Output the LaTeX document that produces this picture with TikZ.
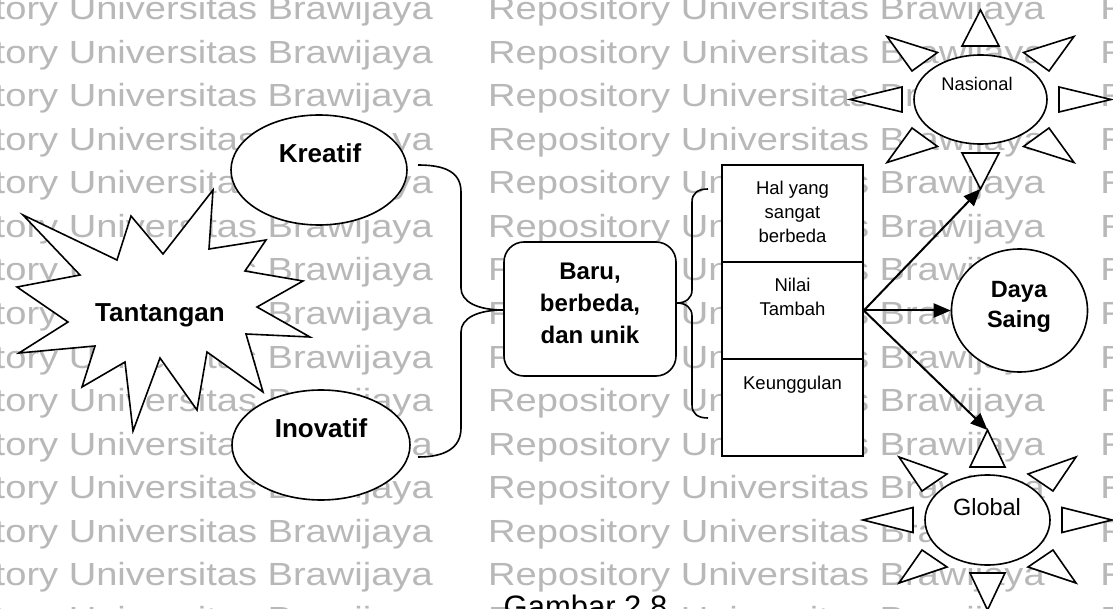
\documentclass[tikz,border=0pt]{standalone}
\usepackage{fontspec}
\setmainfont{Liberation Sans}
\usetikzlibrary{shapes.geometric,arrows.meta}

\newcommand\fsz[1]{\fontsize{#1}{#1}\selectfont}

\tikzset{
  shape line/.style={draw=black, line width=1.6pt, fill=white},
  oval/.style={shape line, ellipse, inner sep=0pt},
  cell/.style={shape line, rectangle, inner sep=0pt, minimum width=141pt, minimum height=97pt},
  lbl/.style={inner sep=0pt, anchor=base, text=black},
  link/.style={draw=black, line width=1.6pt, line join=round},
  pointer/.style={draw=black, line width=2pt, -{Triangle[length=17pt,width=14pt]}},
  ray/.style={draw=black, line width=1.6pt, fill=white, line join=miter},
  watermark/.style={inner sep=0pt, anchor=base west, text=black!28, xscale=1.19, font=\fsz{32}},
}

\begin{document}
\begin{tikzpicture}[x=1pt, y=-1pt]
  \useasboundingbox (0,0) rectangle (1113,609);
  \clip (0,0) rectangle (1113,609);
  \fill[white] (0,0) rectangle (1113,609);

  % repository watermark in the background
  \foreach \r in {0,...,14} {
    \foreach \c/\cx in {0/-124,1/488,2/1100} {
      \node[watermark, name=wm-\r-\c] at ({\cx},{20+43.5*\r}) {Repository Universitas Brawijaya};
    }
  }

  % challenge burst
  \draw[shape line, line join=miter] (23,215) -- (117,260) -- (131,216) -- (163,254) -- (213,190)
    -- (209,249) -- (266,240) -- (245,271) -- (303,281) -- (257,307) -- (310,337)
    -- (246,334) -- (263,392) -- (207,352) -- (197,410) -- (160,358) -- (133,431)
    -- (125,362) -- (82,387) -- (95,346) -- (19,353) -- (68,322) -- (17,287)
    -- (80,275) -- cycle;
  \node[lbl, font=\bfseries\fsz{26}] (tantangan) at (160,322) {Tantangan};

  % creative / innovative
  \node[oval, minimum width=176pt, minimum height=110pt] (kreatif) at (319,170) {};
  \node[lbl, font=\bfseries\fsz{26}] (kreatif-t) at (320,163) {Kreatif};
  \node[oval, minimum width=178pt, minimum height=110pt] (inovatif) at (321,445) {};
  \node[lbl, font=\bfseries\fsz{26}] (inovatif-t) at (321,437) {Inovatif};

  % central box
  \node[shape line, rectangle, rounded corners=20pt, minimum width=172pt, minimum height=134pt] (baru) at (590,309) {};
  \node[lbl, font=\bfseries\fsz{24}] (baru-1) at (590,280) {Baru,};
  \node[lbl, font=\bfseries\fsz{24}] (baru-2) at (590,312) {berbeda,};
  \node[lbl, font=\bfseries\fsz{24}] (baru-3) at (590,344) {dan unik};

  % left brace joining both ovals into the central box
  \coordinate (lb-top) at (418,165);
  \coordinate (lb-bot) at (418,457);
  \coordinate (lb-tip) at (baru.west |- 0,310);
  \draw[link] (lb-top) .. controls (445,165) and (461,172) .. (461,192) -- (461,288)
    .. controls (461,302) and (478,310) .. (lb-tip)
    .. controls (478,310) and (461,318) .. (461,332) -- (461,428)
    .. controls (461,448) and (445,457) .. (lb-bot);

  % stacked cells
  \node[cell] (sec1) at (792.5,213.5) {};
  \node[cell] (sec2) at (792.5,310.5) {};
  \node[cell] (sec3) at (792.5,407.5) {};
  \node[lbl, font=\fsz{18.5}] (sec1-a) at (792.5,195) {Hal yang};
  \node[lbl, font=\fsz{18.5}] (sec1-b) at (792.5,219) {sangat};
  \node[lbl, font=\fsz{18.5}] (sec1-c) at (792.5,243) {berbeda};
  \node[lbl, font=\fsz{18.5}] (sec2-a) at (792.5,292) {Nilai};
  \node[lbl, font=\fsz{18.5}] (sec2-b) at (792.5,316) {Tambah};
  \node[lbl, font=\fsz{18.5}] (sec3-a) at (792.5,389) {Keunggulan};

  % right brace from the central box to the cells
  \coordinate (rb-top) at (708,189);
  \coordinate (rb-bot) at (708,418);
  \coordinate (rb-tip) at (baru.east |- 0,303);
  \draw[link] (rb-top) .. controls (698,189) and (692,193) .. (692,202) -- (692,290)
    .. controls (692,298) and (686,303) .. (rb-tip)
    .. controls (686,303) and (692,308) .. (692,316) -- (692,405)
    .. controls (692,414) and (698,418) .. (rb-bot);

  % competitiveness
  \node[oval, minimum width=136pt, minimum height=123pt] (daya) at (1019.5,310.5) {};
  \node[lbl, font=\bfseries\fsz{23.5}] (daya-1) at (1019,298) {Daya};
  \node[lbl, font=\bfseries\fsz{23.5}] (daya-2) at (1019,327) {Saing};

  % national sun
  \begin{scope}[shift={(980.5,99.5)}]
    \draw[ray] (-18.5,-53.5) -- (18.5,-53.5) -- (0,-89.5) -- cycle;
    \draw[ray] (-18.5,53.5) -- (18.5,53.5) -- (0,89.5) -- cycle;
    \draw[ray] (-78.5,-12.5) -- (-78.5,12.5) -- (-130.5,0) -- cycle;
    \draw[ray] (78.5,-12.5) -- (78.5,12.5) -- (130.5,0) -- cycle;
    \draw[ray] (43,-47) -- (68.5,-28.5) -- (93.5,-63) -- cycle;
    \draw[ray] (-43,-47) -- (-68.5,-28.5) -- (-93.5,-63) -- cycle;
    \draw[ray] (43,47) -- (68.5,28.5) -- (93.5,63) -- cycle;
    \draw[ray] (-43,47) -- (-68.5,28.5) -- (-93.5,63) -- cycle;
    \coordinate (nas-tip) at (0,89.5);
  \end{scope}
  \node[oval, minimum width=133pt, minimum height=89pt] (nasional) at (980.5,99.5) {};
  \node[lbl, font=\fsz{18.3}] (nasional-t) at (977,91) {Nasional};

  % global sun
  \begin{scope}[shift={(987.5,520)}]
    \draw[ray] (-17.5,-53) -- (17.5,-53) -- (0,-90) -- cycle;
    \draw[ray] (-17.5,53) -- (17.5,53) -- (0,90) -- cycle;
    \draw[ray] (-74.5,-12.5) -- (-74.5,12.5) -- (-124.5,0) -- cycle;
    \draw[ray] (74.5,-12.5) -- (74.5,12.5) -- (124.5,0) -- cycle;
    \draw[ray] (40.5,-46) -- (65.5,-29) -- (88.5,-63) -- cycle;
    \draw[ray] (-40.5,-46) -- (-65.5,-29) -- (-88.5,-63) -- cycle;
    \draw[ray] (40.5,47) -- (65.5,30) -- (88.5,63) -- cycle;
    \draw[ray] (-40.5,47) -- (-65.5,30) -- (-88.5,63) -- cycle;
    \coordinate (glb-tip) at (0,-90);
  \end{scope}
  \node[oval, minimum width=125pt, minimum height=90pt] (global) at (987.5,520) {};
  \node[lbl, font=\fsz{23.5}] (global-t) at (987,515) {Global};

  % arrows out of the added-value cell
  \draw[pointer] (sec2.east) -- (nas-tip);
  \draw[pointer] (sec2.east) -- (daya.west);
  \draw[pointer] (sec2.east) -- (glb-tip);

  % caption
  \node[lbl, font=\fsz{31}] (caption) at (585.5,617) {Gambar 2.8};
\end{tikzpicture}
\end{document}
